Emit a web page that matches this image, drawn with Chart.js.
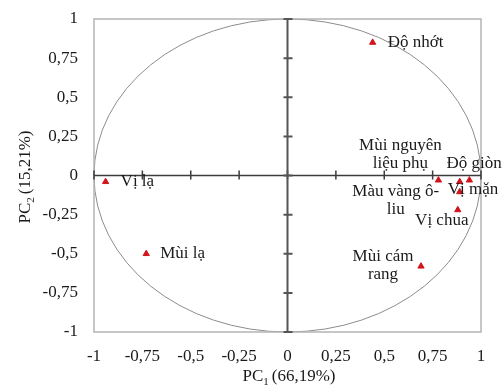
<!DOCTYPE html>
<html>
<head>
<meta charset="utf-8">
<script src="https://cdn.jsdelivr.net/npm/chart.js@4.4.1/dist/chart.umd.min.js"></script>
<style>
  html, body { margin: 0; padding: 0; background: #fff; }
</style>
</head>
<body>
<canvas id="pca" width="504" height="388"></canvas>
<script>
// variables (loadings on PC1 / PC2)
const names = ["Độ nhớt", "Mùi nguyên\nliệu phụ", "Độ giòn", "Vị mặn", "Màu vàng ô-\nliu", "Vị chua", "Mùi cám\nrang", "Vị lạ", "Mùi lạ"];
const pc1 = [0.44, 0.78, 0.94, 0.89, 0.89, 0.88, 0.69, -0.94, -0.73];
const pc2 = [0.85, -0.03, -0.03, -0.04, -0.105, -0.22, -0.58, -0.04, -0.50];
const axisTicks = [-1, -0.75, -0.5, -0.25, 0, 0.25, 0.5, 0.75, 1];
const xTitle = ["PC", "1", "(66,19%)"];
const yTitle = ["PC", "2", "(15,21%)"];

// where each label sits relative to its marker (px)
const labelPlace = [
  { dx: 15, dy: 0, align: "left" },
  { dx: -38, dy: -35, align: "center" },
  { dx: -23, dy: -17, align: "left" },
  { dx: -12, dy: 8, align: "left" },
  { dx: -64, dy: 0, align: "center" },
  { dx: -16, dy: 11, align: "center" },
  { dx: -38, dy: -10, align: "center" },
  { dx: 15, dy: 0, align: "left" },
  { dx: 14, dy: 0, align: "left" },
];

const FONT = "'Liberation Serif', 'Times New Roman', serif";
const fmt = v => String(Math.round(v * 100) / 100).replace(".", ",");

const pcaDecor = {
  id: "pcaDecor",
  beforeDatasetsDraw(chart) {
    const { ctx, chartArea: a, scales: { x, y } } = chart;
    ctx.save();
    // correlation circle
    ctx.strokeStyle = "#8c8c8c";
    ctx.lineWidth = 1;
    ctx.beginPath();
    ctx.ellipse(x.getPixelForValue(0), y.getPixelForValue(0),
      x.getPixelForValue(1) - x.getPixelForValue(0),
      y.getPixelForValue(0) - y.getPixelForValue(1), 0, 0, Math.PI * 2);
    ctx.stroke();
    // outer box
    ctx.strokeStyle = "#b4b4b4";
    ctx.lineWidth = 1.5;
    ctx.strokeRect(a.left, a.top, a.right - a.left, a.bottom - a.top);
    // centre axes with tick marks
    const x0 = x.getPixelForValue(0), y0 = y.getPixelForValue(0);
    ctx.strokeStyle = "#3c3c3c";
    ctx.lineWidth = 1.5;
    ctx.beginPath();
    ctx.moveTo(a.left, y0); ctx.lineTo(a.right, y0);
    axisTicks.forEach(t => {
      const px = x.getPixelForValue(t);
      ctx.moveTo(px, y0 - 5); ctx.lineTo(px, y0 + 4);
    });
    ctx.stroke();
    ctx.lineWidth = 2;
    ctx.strokeStyle = "#555";
    ctx.beginPath();
    ctx.moveTo(x0, a.top); ctx.lineTo(x0, a.bottom);
    axisTicks.forEach(t => {
      const py = y.getPixelForValue(t);
      ctx.moveTo(x0 - 4, py); ctx.lineTo(x0 + 5, py);
    });
    ctx.stroke();
    ctx.restore();
  },
  afterDatasetsDraw(chart) {
    const { ctx } = chart;
    const pts = chart.getDatasetMeta(0).data;
    ctx.save();
    ctx.fillStyle = "#1a1a1a";
    ctx.font = "17px " + FONT;
    ctx.textBaseline = "middle";
    pts.forEach((p, i) => {
      const lp = labelPlace[i];
      ctx.textAlign = lp.align;
      names[i].split("\n").forEach((line, k) => {
        ctx.fillText(line, p.x + lp.dx, p.y + lp.dy + k * 18);
      });
    });
    ctx.restore();
  },
  afterDraw(chart) {
    const { ctx } = chart;
    const drawSub = (parts, cx, cy) => {
      ctx.font = "17px " + FONT;
      const w0 = ctx.measureText(parts[0]).width;
      const w2 = ctx.measureText(parts[2]).width;
      ctx.font = "11px " + FONT;
      const w1 = ctx.measureText(parts[1]).width;
      const total = w0 + w1 + 3 + w2;
      let sx = cx - total / 2;
      ctx.textAlign = "left";
      ctx.textBaseline = "middle";
      ctx.font = "17px " + FONT;
      ctx.fillText(parts[0], sx, cy);
      sx += w0;
      ctx.font = "11px " + FONT;
      ctx.fillText(parts[1], sx, cy + 5);
      sx += w1 + 3;
      ctx.font = "17px " + FONT;
      ctx.fillText(parts[2], sx, cy);
    };
    ctx.save();
    ctx.fillStyle = "#1a1a1a";
    drawSub(xTitle, 289, 377);
    ctx.translate(26, 177);
    ctx.rotate(-Math.PI / 2);
    drawSub(yTitle, 0, 0);
    ctx.restore();
  }
};

new Chart(document.getElementById("pca"), {
  type: "scatter",
  data: {
    datasets: [{
      data: pc1.map((v, i) => ({ x: v, y: pc2[i] })),
      pointStyle: "triangle",
      pointRadius: 3.6,
      borderWidth: 1,
      backgroundColor: "#d0141c",
      borderColor: "#d0141c",
    }],
  },
  options: {
    responsive: false,
    devicePixelRatio: 1,
    animation: false,
    layout: { padding: { top: 19, right: 23, left: 0, bottom: 0 } },
    plugins: { legend: { display: false }, tooltip: { enabled: false } },
    scales: {
      x: {
        min: -1, max: 1,
        afterFit: s => { s.height = 56; },
        grid: { display: false },
        border: { display: false },
        ticks: {
          stepSize: 0.25, padding: 6, color: "#1a1a1a",
          font: { family: FONT, size: 17 },
          maxRotation: 0, autoSkip: false,
          callback: v => fmt(v),
        },
      },
      y: {
        min: -1, max: 1,
        afterFit: s => { s.width = 94; },
        grid: { display: false },
        border: { display: false },
        ticks: {
          stepSize: 0.25, padding: 8, color: "#1a1a1a",
          font: { family: FONT, size: 17 },
          autoSkip: false,
          callback: v => fmt(v),
        },
      },
    },
  },
  plugins: [pcaDecor],
});
</script>
</body>
</html>
